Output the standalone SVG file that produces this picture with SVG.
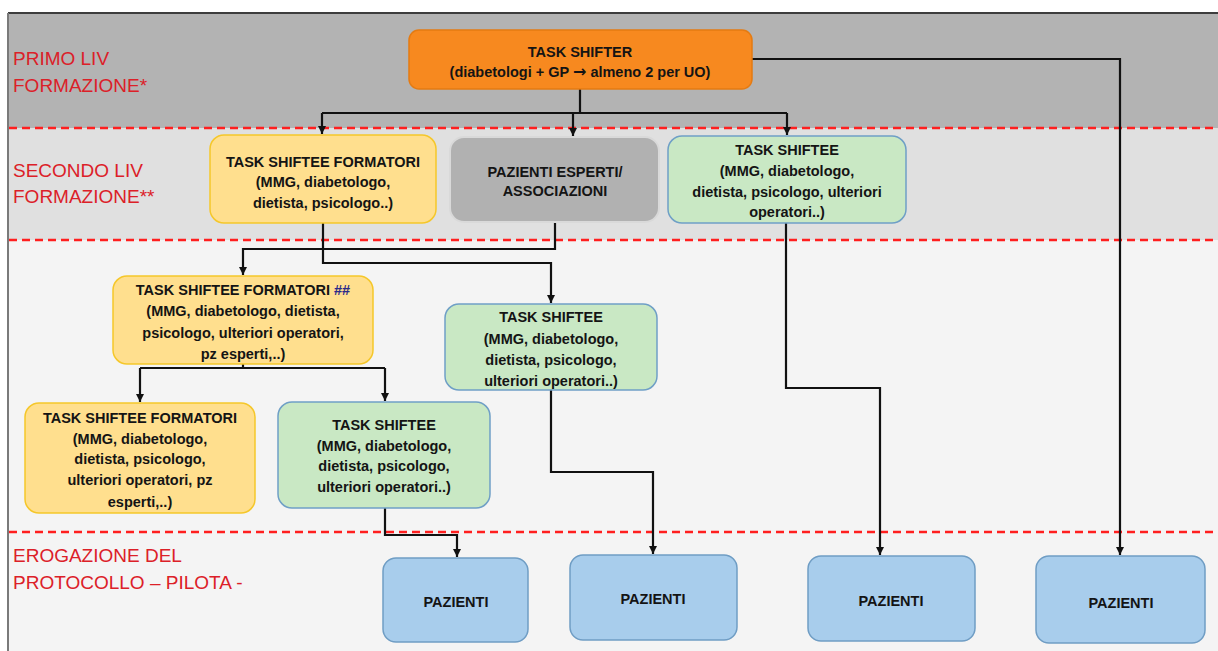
<svg xmlns="http://www.w3.org/2000/svg" width="1218" height="651" viewBox="0 0 1218 651">
<defs>
<marker id="arr" viewBox="0 0 10 10" refX="10" refY="5" markerWidth="8" markerHeight="8" markerUnits="userSpaceOnUse" orient="auto">
<path d="M0,0 L10,5 L0,10 z" fill="#111"/>
</marker>
<style>
.lbl{font-family:"Liberation Sans",Arial,sans-serif;font-size:19px;fill:#dc2028}
.t{font-family:"Liberation Sans",Arial,sans-serif;font-size:14.5px;font-weight:bold;fill:#141414;text-anchor:middle}
.dash{stroke:#ff1f1f;stroke-width:2.5;stroke-dasharray:8 5;fill:none}
.orange{fill:#f7891f;stroke:#e57b12;stroke-width:1.5}
.yellow{fill:#ffdf8e;stroke:#f5c72a;stroke-width:1.5}
.gray{fill:#b1b1b1;stroke:#d9d9d9;stroke-width:2}
.green{fill:#c9e8c4;stroke:#6f9fc6;stroke-width:1.5}
.blue{fill:#a8cdec;stroke:#6f9dc4;stroke-width:1.5}
.c{fill:none;stroke:#111;stroke-width:2.2}
</style>
</defs>
<rect x="0" y="0" width="1218" height="651" fill="#ffffff"/>
<rect x="8" y="13" width="1210" height="115" fill="#b3b3b3"/>
<rect x="8" y="128" width="1210" height="112" fill="#e0e0e0"/>
<rect x="8" y="240" width="1210" height="411" fill="#f4f4f4"/>
<line x1="8" y1="13" x2="1218" y2="13" stroke="#3d3d3d" stroke-width="2"/>
<line x1="8" y1="13" x2="8" y2="651" stroke="#7a7a7a" stroke-width="2"/>
<line class="dash" x1="9" y1="128" x2="1218" y2="128"/>
<line class="dash" x1="9" y1="240" x2="1218" y2="240"/>
<line class="dash" x1="9" y1="532" x2="1218" y2="532"/>

<g id="labels">
<text class="lbl" x="13" y="65">PRIMO LIV</text>
<text class="lbl" x="13" y="92">FORMAZIONE*</text>
<text class="lbl" x="13" y="177">SECONDO LIV</text>
<text class="lbl" x="13" y="203">FORMAZIONE**</text>
<text class="lbl" x="13" y="562">EROGAZIONE DEL</text>
<text class="lbl" x="13" y="589">PROTOCOLLO – PILOTA -</text>
</g>

<g id="connectors">
<path class="c" d="M580,89 V113"/>
<path class="c" d="M322,113 H787"/>
<path class="c" d="M322,113 V134" marker-end="url(#arr)"/>
<path class="c" d="M573,113 V136" marker-end="url(#arr)"/>
<path class="c" d="M787,113 V135" marker-end="url(#arr)"/>
<path class="c" d="M752,59 H1120 V555" marker-end="url(#arr)"/>
<path class="c" d="M555,222 V249 H243 V275" marker-end="url(#arr)"/>
<path class="c" d="M323,223 V263 H551 V303" marker-end="url(#arr)"/>
<path class="c" d="M786,223 V388 H880 V555" marker-end="url(#arr)"/>
<path class="c" d="M243,364 V368"/>
<path class="c" d="M140,368 H385"/>
<path class="c" d="M140,368 V402" marker-end="url(#arr)"/>
<path class="c" d="M385,368 V401" marker-end="url(#arr)"/>
<path class="c" d="M385,508 V535 H457 V557" marker-end="url(#arr)"/>
<path class="c" d="M551,390 V472 H653 V554" marker-end="url(#arr)"/>
</g>

<g id="task-shifter">
<rect class="orange" x="409" y="30" width="343" height="59" rx="10"/>
<text class="t" x="580" y="57">TASK SHIFTER</text>
<text class="t" x="580" y="77">(diabetologi + GP <tspan font-family="DejaVu Sans, sans-serif" font-size="16">→</tspan> almeno 2 per UO)</text>
</g>

<g id="formatori-1">
<rect class="yellow" x="210" y="135" width="226" height="88" rx="14"/>
<text class="t" x="323" y="167">TASK SHIFTEE FORMATORI</text>
<text class="t" x="323" y="187">(MMG, diabetologo,</text>
<text class="t" x="323" y="208">dietista, psicologo..)</text>
</g>

<g id="pazienti-esperti">
<rect class="gray" x="450" y="137" width="209" height="85" rx="14"/>
<text class="t" x="555" y="177">PAZIENTI ESPERTI/</text>
<text class="t" x="555" y="196">ASSOCIAZIONI</text>
</g>

<g id="shiftee-1">
<rect class="green" x="668" y="136" width="238" height="87" rx="14"/>
<text class="t" x="787" y="155">TASK SHIFTEE</text>
<text class="t" x="787" y="176">(MMG, diabetologo,</text>
<text class="t" x="787" y="197">dietista, psicologo, ulteriori</text>
<text class="t" x="787" y="217">operatori..)</text>
</g>

<g id="formatori-2">
<rect class="yellow" x="113" y="276" width="260" height="88" rx="14"/>
<text class="t" x="243" y="295">TASK SHIFTEE FORMATORI <tspan fill="#2a2a8a">##</tspan></text>
<text class="t" x="243" y="316">(MMG, diabetologo, dietista,</text>
<text class="t" x="243" y="338">psicologo, ulteriori operatori,</text>
<text class="t" x="243" y="359">pz esperti,..)</text>
</g>

<g id="shiftee-2">
<rect class="green" x="445" y="304" width="212" height="86" rx="14"/>
<text class="t" x="551" y="322">TASK SHIFTEE</text>
<text class="t" x="551" y="344">(MMG, diabetologo,</text>
<text class="t" x="551" y="365">dietista, psicologo,</text>
<text class="t" x="551" y="386">ulteriori operatori..)</text>
</g>

<g id="formatori-3">
<rect class="yellow" x="25" y="403" width="230" height="110" rx="14"/>
<text class="t" x="140" y="423">TASK SHIFTEE FORMATORI</text>
<text class="t" x="140" y="444">(MMG, diabetologo,</text>
<text class="t" x="140" y="464">dietista, psicologo,</text>
<text class="t" x="140" y="485">ulteriori operatori, pz</text>
<text class="t" x="140" y="507">esperti,..)</text>
</g>

<g id="shiftee-3">
<rect class="green" x="278" y="402" width="212" height="106" rx="14"/>
<text class="t" x="384" y="430">TASK SHIFTEE</text>
<text class="t" x="384" y="451">(MMG, diabetologo,</text>
<text class="t" x="384" y="471">dietista, psicologo,</text>
<text class="t" x="384" y="492">ulteriori operatori..)</text>
</g>

<g id="pazienti-1">
<rect class="blue" x="383" y="558" width="145" height="84" rx="13"/>
<text class="t" x="456" y="607">PAZIENTI</text>
</g>
<g id="pazienti-2">
<rect class="blue" x="570" y="555" width="167" height="85" rx="13"/>
<text class="t" x="653" y="604">PAZIENTI</text>
</g>
<g id="pazienti-3">
<rect class="blue" x="808" y="556" width="167" height="85" rx="13"/>
<text class="t" x="891" y="606">PAZIENTI</text>
</g>
<g id="pazienti-4">
<rect class="blue" x="1036" y="556" width="169" height="87" rx="13"/>
<text class="t" x="1121" y="608">PAZIENTI</text>
</g>
</svg>
